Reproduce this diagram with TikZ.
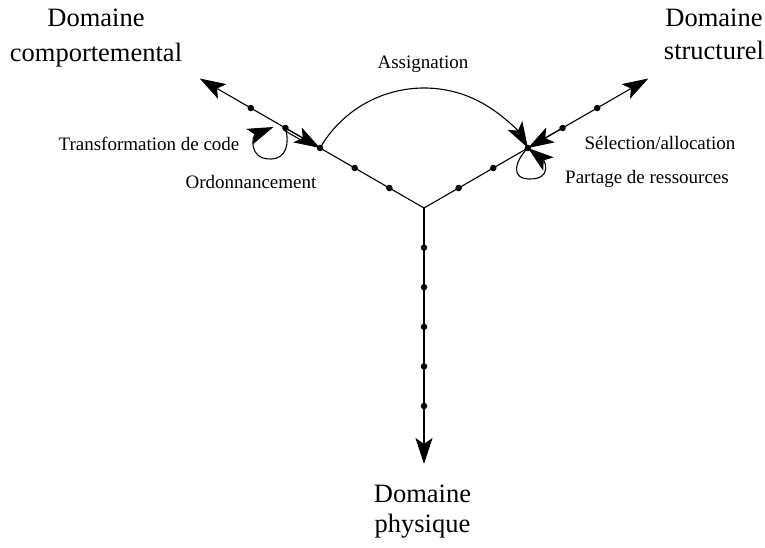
\documentclass[tikz,border=0pt]{standalone}
\usepackage{fontspec}
\setmainfont{Liberation Serif}
\usetikzlibrary{arrows.meta}
\begin{document}
\begin{tikzpicture}[x=1pt,y=1pt,
  axis/.style={line width=1.1pt},
  tipped/.style={-{Stealth[length=26pt,width=17pt,inset=6pt]}},
  dotnode/.style={circle,fill=black,inner sep=0pt,minimum size=6.5pt},
  big/.style={align=center,inner sep=0pt},
  small/.style={font=\fontsize{19}{22}\selectfont,inner sep=0pt,anchor=base}]
\useasboundingbox (-424,-339) rectangle (341,208);
\coordinate (O) at (0,0);
\coordinate (L) at (150:259);
\coordinate (R) at (30:259);
\coordinate (D) at (270:256);
% axes
\draw[axis,tipped] (O) -- (L);
\draw[axis,tipped] (O) -- (R);
\draw[axis,tipped] (O) -- (D);
% dots
\foreach \i in {1,...,5} {
  \node[dotnode] (l\i) at (150:40*\i) {};
  \node[dotnode] (r\i) at (30:40*\i) {};
  \node[dotnode] (d\i) at (270:39.6*\i) {};
}
% Ordonnancement arrow (doubled line)
\draw[axis,shorten >=12pt] ([shift={(-1.3,-2.3)}]l4.center) -- ([shift={(-1.3,-2.3)}]l3.center);
\draw[axis,tipped] (l4.center) -- (l3.center);
% Selection/allocation arrow
\draw[axis,tipped] (r4.center) -- (r3.center);
% Assignation arc
\draw[axis,tipped] (l3.center) arc[start angle=150,end angle=30,radius=120];
% Transformation de code loop
\draw[axis,tipped] (l4.center) to[out=-75,in=0,looseness=1.2] +(-15,-31)
  to[out=180,in=202,looseness=1.8] +(-12,1);
% Partage de ressources loop
\draw[axis,tipped] (r3.center) to[out=225,in=180,looseness=1.6] +(2,-31)
  to[out=0,in=-38,looseness=1.8] (r3.center);
% labels
\node[big,font=\fontsize{26.5}{35}\selectfont] (dc) at (-328,169.5) {Domaine\\comportemental};
\node[big,font=\fontsize{26.5}{33}\selectfont] (ds) at (290,173.5) {Domaine\\structurel};
\node[big,font=\fontsize{26.5}{30}\selectfont] (dp) at (-1.5,-304) {Domaine\\physique};
\node[small] (as) at (-1,140) {Assignation};
\node[small] (tc) at (-275,58) {Transformation de code};
\node[small] (or) at (-173,20) {Ordonnancement};
\node[small] (sa) at (236,59) {Sélection/allocation};
\node[small] (pr) at (223,25) {Partage de ressources};
\end{tikzpicture}
\end{document}
